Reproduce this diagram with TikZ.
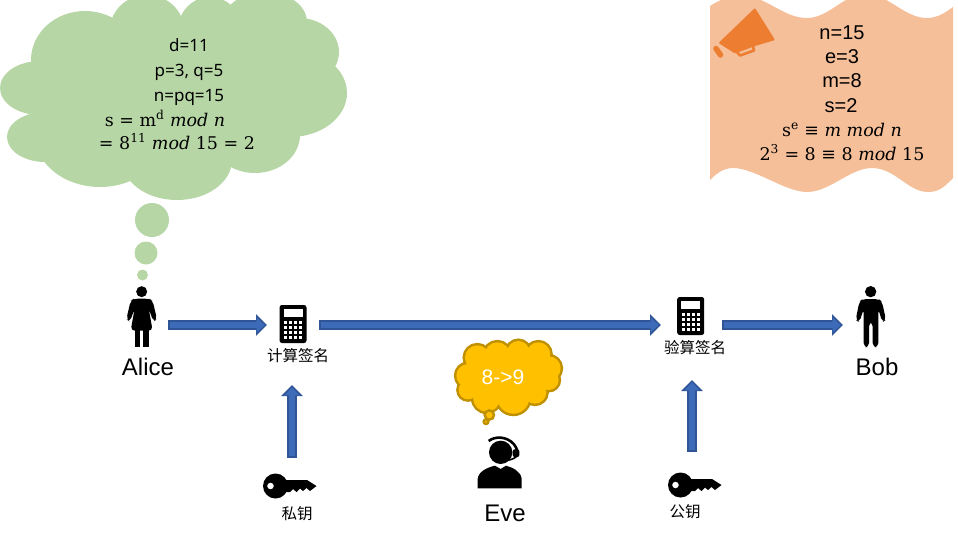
\documentclass[tikz,border=0pt]{standalone}
\usepackage{fontspec}
\setmainfont{Liberation Sans}
\newfontfamily\yaheifont{Noto Sans}
\newfontfamily\mathsfont{DejaVu Serif}
\newfontfamily\cjkfont{Noto Sans CJK SC}
\usetikzlibrary{arrows.meta}
\definecolor{cloudgreen}{HTML}{B7D6A5}
\definecolor{wavepeach}{HTML}{F5BF99}
\definecolor{megaorange}{HTML}{ED7D31}
\definecolor{arrowedge}{HTML}{2F5597}
\definecolor{arrowcore}{HTML}{3D6BB8}
\definecolor{evefill}{HTML}{FFC000}
\definecolor{eveedge}{HTML}{BF9000}
\tikzset{
  iconbox/.style={inner sep=0pt,outer sep=0pt},
  arrowout/.style={draw=arrowedge,line width=10.6pt,-{Triangle[length=11pt,width=21pt]}},
  arrowin/.style={draw=arrowcore,line width=6.6pt,shorten <=1.8pt,shorten >=2.4pt,-{Triangle[length=8pt,width=15pt]}},
  cloudtext/.style={inner sep=0pt,font=\yaheifont\fontsize{17}{17}\selectfont,text height=12pt,text depth=0pt},
  mathtext/.style={inner sep=0pt,font=\mathsfont\fontsize{17.5}{17.5}\selectfont,text height=12pt,text depth=0pt},
  wavetext/.style={inner sep=0pt,font=\fontsize{20}{20}\selectfont,text height=12pt,text depth=0pt},
  name label/.style={inner sep=0pt,font=\fontsize{24}{24}\selectfont,text height=16pt,text depth=0pt},
  cjklabel/.style={inner sep=0pt,font=\cjkfont\fontsize{15.5}{15.5}\selectfont},
  calcicon/.pic={
    \fill[black,rounded corners=2.5pt] (-13.5,-19) rectangle (13.5,19);
    \fill[white] (-9.5,-15) rectangle (9.5,-7);
    \foreach \i in {0,1,2,3} \foreach \j in {0,1,2,3}
      \fill[white] (-9.2+\i*5,-3.5+\j*5) rectangle ++(3.6,3.6);
  },
  keyicon/.pic={
    \fill[black,even odd rule] (-14.5,0) circle (12.5) (-19.5,0) circle (3.4);
    \fill[black] (-10,-6) -- (17,-6) -- (26.5,0) -- (20,5)
      -- (16.5,2) -- (13,5) -- (10,2.5) -- (6.5,6) -- (3,3) -- (0,6) -- (-10,6) -- cycle;
  }
}
\newcommand{\blockarrow}[2]{\draw[arrowout] #1 -- #2; \draw[arrowin] #1 -- #2;}
\begin{document}
\begin{tikzpicture}[x=1pt,y=-1pt]
\useasboundingbox (0,0) rectangle (958,544);
\begin{scope}
\clip (0,0) rectangle (958,544);
% Alice's thought cloud
\fill[cloudgreen] (40,88) ellipse [x radius=40,y radius=27];
\fill[cloudgreen] (45,137) ellipse [x radius=38,y radius=25];
\fill[cloudgreen] (100,135) ellipse [x radius=65,y radius=52];
\fill[cloudgreen] (177,160) ellipse [x radius=55,y radius=40];
\fill[cloudgreen] (255,135) ellipse [x radius=45,y radius=38];
\fill[cloudgreen] (290,93) ellipse [x radius=57,y radius=44];
\fill[cloudgreen] (299,52) ellipse [x radius=40,y radius=34];
\fill[cloudgreen] (265,22) ellipse [x radius=42,y radius=30];
\fill[cloudgreen] (147,30) ellipse [x radius=37,y radius=35];
\fill[cloudgreen] (210,30) ellipse [x radius=32,y radius=33];
\fill[cloudgreen] (85,60) ellipse [x radius=54,y radius=49];
\fill[cloudgreen] (180,95) ellipse [x radius=120,y radius=70];
\fill[cloudgreen] (152,220) circle (17);
\fill[cloudgreen] (146,253) circle (11.5);
\fill[cloudgreen] (142.5,275) circle (5.5);
% Peach wave
\fill[wavepeach] (710,6) .. controls (722,-2) and (735,-6) .. (748,-4)
  .. controls (770,0) and (785,18) .. (807,18)
  .. controls (830,18) and (845,-8) .. (868,-6)
  .. controls (890,-4) and (905,18) .. (927,18)
  .. controls (938,18) and (946,12) .. (953,7)
  -- (953,178)
  .. controls (945,186) and (940,192) .. (928,192)
  .. controls (908,192) and (895,168) .. (872,168)
  .. controls (850,168) and (830,192) .. (807,192)
  .. controls (785,192) and (755,168) .. (733,168)
  .. controls (723,168) and (716,174) .. (710,180) -- cycle;
\end{scope}
% Megaphone
\fill[megaorange,rounded corners=1pt] (755,8) -- (775,40) -- (755,46) -- (735,53.5) -- (718.5,43) -- cycle;
\draw[megaorange,line width=5.5pt,line cap=round] (716,48.5) -- (720.5,55);
\draw[megaorange,line width=2.6pt,line join=round] (737,52) -- (740,55.5) -- (754,50.5) -- (753,46);
% Alice's text
\node[cloudtext] (t1) at (189,45) {d=11};
\node[cloudtext] (t2) at (189,70) {p=3, q=5};
\node[cloudtext] (t3) at (189,95) {n=pq=15};
\node[mathtext] (t4) at (165,120) {s = m\textsuperscript{d} \textit{mod n}};
\node[mathtext] (t5) at (177,143) {= 8\textsuperscript{11} \textit{mod} 15 = 2};
% Verification text
\node[wavetext] (w1) at (842,33) {n=15};
\node[wavetext] (w2) at (842,57) {e=3};
\node[wavetext] (w3) at (842,81) {m=8};
\node[wavetext] (w4) at (841,106) {s=2};
\node[mathtext] (w5) at (842,130) {s\textsuperscript{e} ≡ \textit{m mod n}};
\node[mathtext] (w6) at (842,154) {2\textsuperscript{3} = 8 ≡ 8 \textit{mod} 15};
% Alice
\begin{scope}[shift={(110,280)},scale=1/3]
\fill[black] (95,35) circle (16.5);
\fill[black,rounded corners=4pt] (72,56) -- (117,56) -- (128,62) -- (141,118) -- (130,125) -- (116,85) -- (128,152) -- (62,152) -- (74,85) -- (60,125) -- (49,118) -- (62,62) -- cycle;
\fill[black] (74,150) rectangle (91,201);
\fill[black] (100,150) rectangle (118,201);
\end{scope}
% Bob
\begin{scope}[shift={(650,285)},scale=1/3]
\fill[black] (662,20) circle (17);
\fill[black,rounded corners=4pt] (638,42) -- (686,42) -- (696,50) -- (708,105) -- (697,112) -- (685,72) -- (685,186) -- (668,186) -- (668,112) -- (657,112) -- (657,186) -- (641,186) -- (641,72) -- (628,112) -- (617,105) -- (628,50) -- cycle;
\end{scope}
% Eve
\begin{scope}[shift={(440,335)},scale=1/3]
\fill[black] (182,352) circle (35);
\draw[black,line width=2.6pt] (146,318) .. controls (165,303) and (200,303) .. (222,328) .. controls (232,342) and (234,350) .. (230,362);
\fill[black,rounded corners=2pt] (218,343) rectangle (238,366);
\draw[black,line width=1.6pt] (230,364) .. controls (222,372) and (208,376) .. (190,378);
\fill[black] (113,460) -- (245,460) -- (245,432) .. controls (243,410) and (220,398) .. (198,392) -- (182,402) -- (165,392) .. controls (140,398) and (115,410) .. (113,432) -- cycle;
% Eve's cloud
\foreach \x/\y/\r in {84/122/35,84/165/28,112/68/37,172/60/38,235/52/34,295/58/36,326/100/36,326/135/30,285/172/34,220/188/48,140/190/40}
  \draw[eveedge,line width=5pt] (\x,\y) circle (\r);
\foreach \x/\y/\r in {84/122/35,84/165/28,112/68/37,172/60/38,235/52/34,295/58/36,326/100/36,326/135/30,285/172/34,220/188/48,140/190/40}
  \fill[evefill] (\x,\y) circle (\r);
\fill[evefill] (200,120) ellipse [x radius=120,y radius=70];
\filldraw[fill=evefill,draw=eveedge,line width=2.4pt] (148,240) circle (14);
\filldraw[fill=evefill,draw=eveedge,line width=2.4pt] (138,260) circle (7);
\end{scope}
\node[inner sep=0pt,text=white,font=\fontsize{21}{21}\selectfont] (evetext) at (503,377) {8->9};
% Icon anchors
\node[iconbox,minimum width=52pt,minimum height=40pt] (alice) at (142,325) {};
\node[iconbox,minimum width=52pt,minimum height=40pt] (calca) at (293,325) {};
\node[iconbox,minimum width=61pt,minimum height=40pt] (calcb) at (691.5,325) {};
\node[iconbox,minimum width=56pt,minimum height=40pt] (bob) at (871,325) {};
\node[iconbox,minimum width=30pt,minimum height=56pt] (keya) at (292,486) {};
\node[iconbox,minimum width=30pt,minimum height=66pt] (keyb) at (692,485) {};
\coordinate (tipa) at (292,385);
\coordinate (tipb) at (692,380);
% Icons
\pic at (293,324) {calcicon};
\pic at (690.7,316) {calcicon};
\pic at (290,486) {keyicon};
\pic at (695,485) {keyicon};
% Labels
\node[name label] (la) at (148,367) {Alice};
\node[name label] (lb) at (877,367) {Bob};
\node[name label] (le) at (505,513) {Eve};
\node[cjklabel] (ca) at (298,356) {计算签名};
\node[cjklabel] (cb) at (695,348) {验算签名};
\node[cjklabel] (ka) at (297,514) {私钥};
\node[cjklabel] (kb) at (685,512) {公钥};
% Connectors
\blockarrow{(alice.east)}{(calca.west)}
\blockarrow{(calca.east)}{(calcb.west)}
\blockarrow{(calcb.east)}{(bob.west)}
\blockarrow{(keya.north)}{(tipa)}
\blockarrow{(keyb.north)}{(tipb)}
\end{tikzpicture}
\end{document}
